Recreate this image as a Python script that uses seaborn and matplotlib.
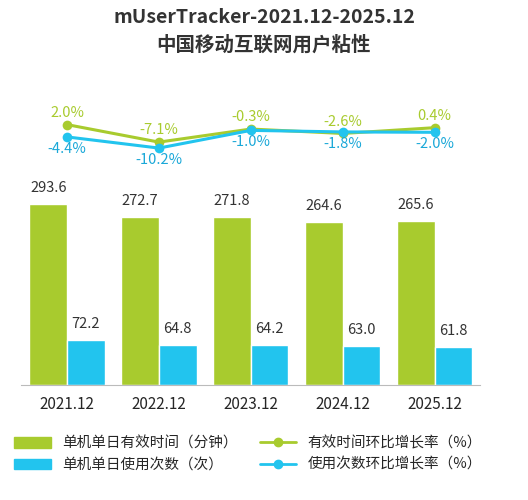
import matplotlib
matplotlib.use("Agg")
import matplotlib.pyplot as plt
import seaborn as sns
import pandas as pd
from matplotlib.lines import Line2D
from matplotlib.patches import Patch

years = ["2021.12", "2022.12", "2023.12", "2024.12", "2025.12"]
time_min = [293.6, 272.7, 271.8, 264.6, 265.6]
use_cnt = [72.2, 64.8, 64.2, 63.0, 61.8]
time_growth = [2.0, -7.1, -0.3, -2.6, 0.4]
cnt_growth = [-4.4, -10.2, -1.0, -1.8, -2.0]
s_time = "单机单日有效时间（分钟）"
s_cnt = "单机单日使用次数（次）"
s_tg = "有效时间环比增长率（%）"
s_cg = "使用次数环比增长率（%）"

sns.set_style("white")
plt.rcParams['font.family'] = ['Noto Sans CJK SC', 'DejaVu Sans']
green, blue = "#A8CB2E", "#22C4EE"

fig = plt.figure(figsize=(5.28, 5.0), dpi=100)
fig.text(0.5, 0.965, "mUserTracker-2021.12-2025.12", ha="center", va="center", fontsize=14, fontweight="bold", color="#333333")
fig.text(0.5, 0.91, "中国移动互联网用户粘性", ha="center", va="center", fontsize=14, fontweight="bold", color="#333333")

# line panel
axl = fig.add_axes([0.04, 0.62, 0.87, 0.2])
xs = list(range(5))
dfl = pd.DataFrame({"x": xs * 2, "v": time_growth + cnt_growth, "s": [s_tg] * 5 + [s_cg] * 5})
sns.lineplot(data=dfl, x="x", y="v", hue="s", palette=[green, blue], marker="o", markersize=7,
             markeredgewidth=0, linewidth=2.2, ax=axl, legend=False)
for i in xs:
    axl.text(i, time_growth[i] + 2.5, f"{time_growth[i]:.1f}%", ha="center", va="bottom", color=green, fontsize=10.5)
    axl.text(i, cnt_growth[i] - 2.5, f"{cnt_growth[i]:.1f}%", ha="center", va="top", color="#1AA8D8", fontsize=10.5)
axl.set_xlim(-0.5, 4.5); axl.set_ylim(-32, 20)
axl.axis("off")

# bar panel
axb = fig.add_axes([0.04, 0.23, 0.87, 0.37])
dfb = pd.DataFrame({"year": years * 2, "v": time_min + use_cnt, "s": [s_time] * 5 + [s_cnt] * 5})
sns.barplot(data=dfb, x="year", y="v", hue="s", palette=[green, blue], ax=axb, width=0.82, legend=False, saturation=1)
for cont, vals in zip(axb.containers, [time_min, use_cnt]):
    for bar, v in zip(cont, vals):
        axb.text(bar.get_x() + bar.get_width() / 2, v + 15, f"{v:.1f}", ha="center", va="bottom", fontsize=10.5, color="#333333")
axb.set_ylim(0, 300); axb.set_xlim(-0.5, 4.5)
for sp in ["top", "right", "left"]:
    axb.spines[sp].set_visible(False)
axb.spines["bottom"].set_color("#BBBBBB")
axb.set_yticks([]); axb.set_xlabel(""); axb.set_ylabel("")
axb.tick_params(axis="x", length=0, labelsize=11, pad=8)

handles = [Patch(color=green, label=s_time), Patch(color=blue, label=s_cnt),
           Line2D([0], [0], color=green, marker="o", lw=2, label=s_tg),
           Line2D([0], [0], color=blue, marker="o", lw=2, label=s_cg)]
fig.legend(handles=handles, loc="lower center", ncol=2, bbox_to_anchor=(0.47, 0.03), frameon=False,
           fontsize=10.5, handlelength=2.5, columnspacing=1.5)
fig.savefig("out.png", dpi=100)
